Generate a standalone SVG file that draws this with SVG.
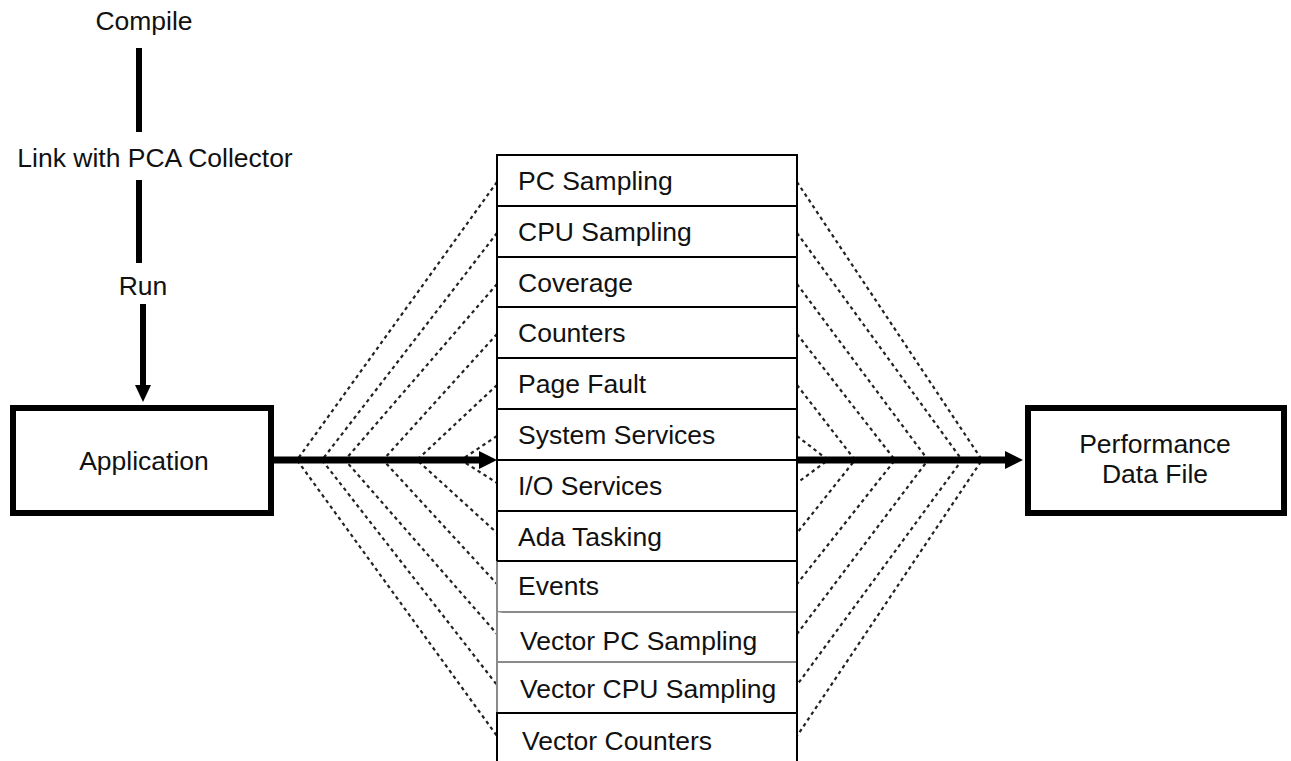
<svg xmlns="http://www.w3.org/2000/svg" width="1291" height="761" viewBox="0 0 1291 761">
  <style>
    text { font-family: "Liberation Sans", Arial, Helvetica, sans-serif; font-size: 26.5px; fill: #111; }
    .mid { text-anchor: middle; }
    .box { fill: #fff; stroke: #000; stroke-width: 6; }
    .cell { fill: #fff; stroke: #000; stroke-width: 2; }
    .soft { stroke: #8a8a8a; }
    .step { stroke: #000; stroke-width: 6; fill: none; }
    .flow { stroke: #000; stroke-width: 7; fill: none; }
    .dash { stroke: #222; stroke-width: 2.2; stroke-dasharray: 3.5 3.5; fill: none; }
    .head { fill: #000; }
  </style>

  <!-- fan-out / fan-in dotted links between the boxes and the method column -->
  <g id="connectors">
    <g id="fan-left">
      <polyline class="dash" points="497,182 297,460 497,736"/>
      <polyline class="dash" points="497,233 322,460 497,685"/>
      <polyline class="dash" points="497,284 345,460 497,634"/>
      <polyline class="dash" points="497,334 383,460 497,584"/>
      <polyline class="dash" points="497,385 417,460 497,533"/>
      <polyline class="dash" points="497,436 461,460 497,483"/>
    </g>
    <g id="fan-right">
      <polyline class="dash" points="797,182 982,460 797,736"/>
      <polyline class="dash" points="797,233 962,460 797,685"/>
      <polyline class="dash" points="797,284 928,460 797,634"/>
      <polyline class="dash" points="797,334 895,460 797,584"/>
      <polyline class="dash" points="797,385 855,460 797,533"/>
      <polyline class="dash" points="797,436 828,460 797,483"/>
    </g>

    <!-- build steps -->
    <line class="step" x1="139" y1="48" x2="139" y2="132"/>
    <line class="step" x1="139" y1="180" x2="139" y2="263"/>
    <line class="step" x1="143" y1="304" x2="143" y2="388"/>
    <polygon class="head" points="135,385 151,385 143,402"/>

    <!-- data flow -->
    <line class="flow" x1="274" y1="460" x2="482" y2="460"/>
    <polygon class="head" points="479,451 497,460 479,469"/>
    <line class="flow" x1="797" y1="460" x2="1008" y2="460"/>
    <polygon class="head" points="1005,451 1023,460 1005,469"/>
  </g>

  <g id="compile"><text class="mid" x="144" y="30">Compile</text></g>
  <g id="link"><text class="mid" x="155" y="167">Link with PCA Collector</text></g>
  <g id="run"><text class="mid" x="143" y="295">Run</text></g>

  <g id="application">
    <rect class="box" x="13" y="408" width="258" height="105"/>
    <text class="mid" x="144" y="470">Application</text>
  </g>

  <g id="performance-data-file">
    <rect class="box" x="1028" y="408" width="256" height="105"/>
    <text class="mid" x="1155" y="453">Performance</text>
    <text class="mid" x="1155" y="483">Data File</text>
  </g>

  <!-- collection methods column -->
  <g id="methods">
    <g id="m-pc"><rect class="cell" x="497" y="155" width="300" height="51"/><text x="518" y="190">PC Sampling</text></g>
    <g id="m-cpu"><rect class="cell" x="497" y="206" width="300" height="51"/><text x="518" y="241">CPU Sampling</text></g>
    <g id="m-coverage"><rect class="cell" x="497" y="257" width="300" height="50"/><text x="518" y="292">Coverage</text></g>
    <g id="m-counters"><rect class="cell" x="497" y="307" width="300" height="51"/><text x="518" y="342">Counters</text></g>
    <g id="m-pagefault"><rect class="cell" x="497" y="358" width="300" height="51"/><text x="518" y="393">Page Fault</text></g>
    <g id="m-system"><rect class="cell" x="497" y="409" width="300" height="51"/><text x="518" y="444">System Services</text></g>
    <g id="m-io"><rect class="cell" x="497" y="460" width="300" height="51"/><text x="518" y="495">I/O Services</text></g>
    <g id="m-ada"><rect class="cell" x="497" y="511" width="300" height="50"/><text x="518" y="546">Ada Tasking</text></g>
    <g id="m-events">
      <path class="cell soft" d="M497,561 V612 H797"/>
      <line class="cell" x1="797" y1="561" x2="797" y2="612"/>
      <text x="518" y="595">Events</text>
    </g>
    <g id="m-vpc">
      <path class="cell soft" d="M497,612 V662 H797"/>
      <line class="cell" x1="797" y1="612" x2="797" y2="662"/>
      <text x="520" y="650">Vector PC Sampling</text>
    </g>
    <g id="m-vcpu">
      <path class="cell soft" d="M497,662 V713"/>
      <line class="cell" x1="797" y1="662" x2="797" y2="713"/>
      <text x="520" y="698">Vector CPU Sampling</text>
    </g>
    <g id="m-vcounters">
      <path class="cell" d="M497,770 V713 H797 V770"/>
      <text x="522" y="750">Vector Counters</text>
    </g>
    <line class="cell" x1="497" y1="561" x2="797" y2="561"/>
  </g>
</svg>
